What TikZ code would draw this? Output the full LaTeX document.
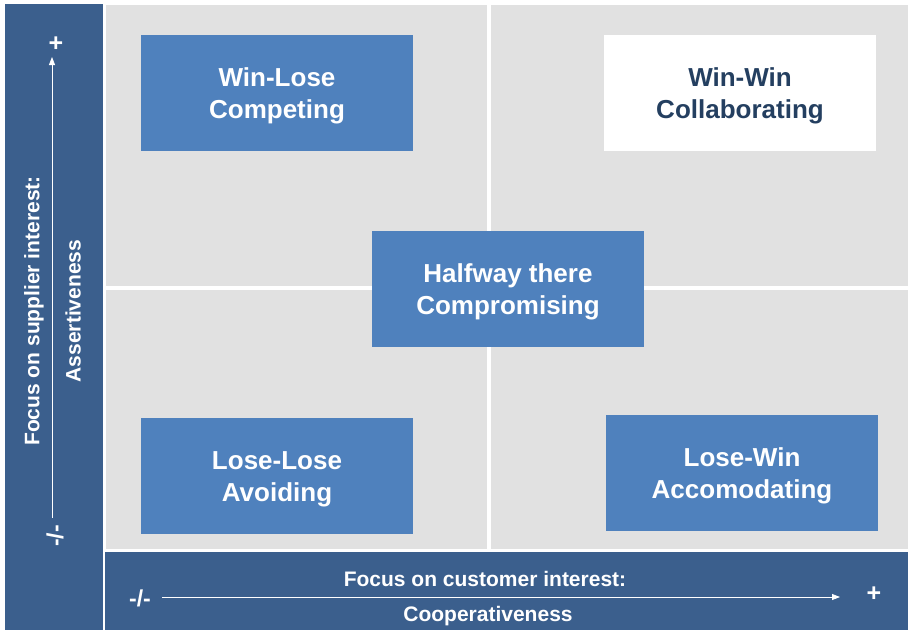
\documentclass[tikz,border=0pt]{standalone}
\usepackage{fontspec}
\setmainfont{Liberation Sans}
\usepackage{tikz}
\usetikzlibrary{
  arrows.meta,
}
\definecolor{barblue}{HTML}{3B5F8D}
\definecolor{boxblue}{HTML}{4F81BD}
\definecolor{cellgrey}{HTML}{E1E1E1}
\definecolor{textnavy}{HTML}{243F60}

\begin{document}
\begin{tikzpicture}[
  x = 1pt,
  y = -1pt,
  cell/.style={
    fill = cellgrey,
  },
  bar/.style={
    fill = barblue,
  },
  style box/.style={
    rectangle,
    fill = boxblue,
    text = white,
    minimum width = 272pt,
    minimum height = 116pt,
    align = center,
    inner sep = 0pt,
    text height = 51pt,
    text depth = 0pt,
    font = \fontsize{26}{32}\selectfont\bfseries,
  },
  axis label/.style={
    text = white,
    inner sep = 0pt,
    font = \fontsize{21}{25}\selectfont\bfseries,
  },
  axis arrow/.style={
    white,
    line width = 0.8pt,
    -{Triangle[length=8pt, width=6pt]},
  },
  ]
  \useasboundingbox (0,0) rectangle (908,630);
  % quadrants and bars
  \path [cell] (106,5) rectangle (487,286);
  \path [cell] (491,5) rectangle (908,286);
  \path [cell] (106,290) rectangle (487,549);
  \path [cell] (491,290) rectangle (908,549);
  \path [bar] (5,4) rectangle (103,630);
  \path [bar] (105,552) rectangle (908,630);

  % strategies
  \path
  node [style box, name=node-competing] at (277,93)
  {Win-Lose\\Competing}
  node [style box, fill=white, text=textnavy, name=node-collaborating] at (740,93)
  {Win-Win\\Collaborating}
  node [style box, name=node-compromising] at (508,289)
  {Halfway there\\Compromising}
  node [style box, name=node-avoiding] at (277,476)
  {Lose-Lose\\Avoiding}
  node [style box, name=node-accomodating] at (742,473)
  {Lose-Win\\Accomodating};

  % vertical axis
  \path
  node [axis label, rotate=90, name=node-supplier] at (34,311)
  {Focus on supplier interest:}
  node [axis label, rotate=90, name=node-assertive] at (73,311)
  {Assertiveness}
  node [axis label, rotate=90, font=\fontsize{23}{27}\selectfont\bfseries, name=node-vlow] at (55,536) {-/-}
  node [axis label, font=\fontsize{25}{29}\selectfont\bfseries, name=node-vhigh] at (56,44) {+};
  \coordinate (vert-start) at (52,518);
  \coordinate (vert-end) at (52,57);
  \draw [axis arrow] (vert-start) -- (vert-end);

  % horizontal axis
  \path
  node [axis label, name=node-customer] at (485,579)
  {Focus on customer interest:}
  node [axis label, name=node-cooperative] at (488,616)
  {Cooperativeness}
  node [axis label, font=\fontsize{23}{27}\selectfont\bfseries, name=node-hlow] at (140,598) {-/-}
  node [axis label, font=\fontsize{25}{29}\selectfont\bfseries, name=node-hhigh] at (874,594) {+};
  \coordinate (horiz-start) at (162,597);
  \coordinate (horiz-end) at (840,597);
  \draw [axis arrow] (horiz-start) -- (horiz-end);
\end{tikzpicture}
\end{document}
